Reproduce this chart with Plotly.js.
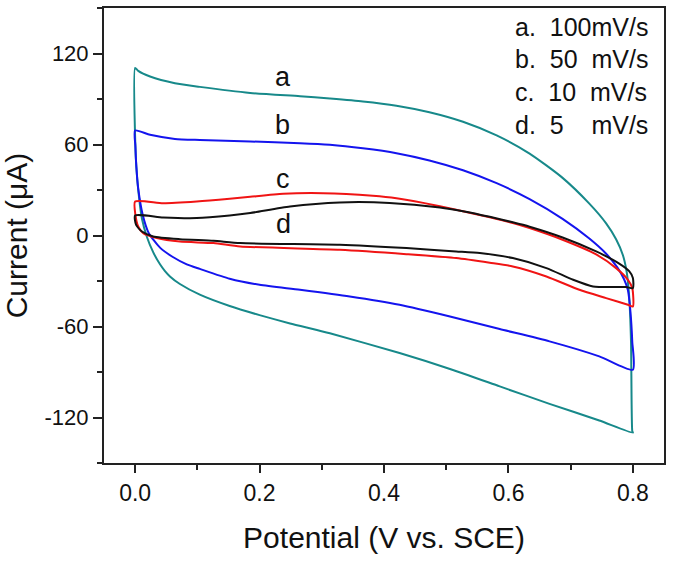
<!DOCTYPE html>
<html>
<head>
<meta charset="utf-8">
<script src="https://cdn.plot.ly/plotly-3.0.1.min.js"></script>
<style>
  html, body { margin: 0; padding: 0; background: #fff; }
  #cv-chart { width: 675px; height: 561px; }
</style>
</head>
<body>
<div id="cv-chart"></div>
<script>
// CV curves, potential (V vs. SCE) -> current (uA), each loop closed
const curveNames = ["a", "b", "c", "d"];
const curveColors = ["#17898a", "#1414ee", "#f01414", "#111111"];

// a. 100 mV/s
const aX = [0, 0.005, 0.024, 0.064, 0.104, 0.185, 0.265, 0.313, 0.366, 0.42, 0.473, 0.527, 0.581, 0.634, 0.687, 0.73, 0.757, 0.773, 0.784, 0.79, 0.794, 0.797, 0.799,
            0.8, 0.746, 0.666, 0.586, 0.506, 0.425, 0.313, 0.249, 0.2, 0.152, 0.104, 0.072, 0.056, 0.048, 0.04, 0.029, 0.019, 0.011, 0.005, 0.002, 0.0005, 0];
const aY = [110.5, 108.5, 104.8, 100.4, 98, 94, 91.8, 90.3, 88.4, 85.6, 81.3, 75, 66, 54, 38, 21, 8, -2.5, -13, -24, -40, -70, -129,
            -130, -122, -111, -99.5, -88, -77.5, -64.5, -58, -52.5, -46.5, -39, -32, -27, -23.5, -19, -11, -1, 11, 30, 45, 58, 110.5];

// b. 50 mV/s
const bX = [0, 0.024, 0.064, 0.104, 0.185, 0.265, 0.313, 0.366, 0.42, 0.473, 0.527, 0.581, 0.634, 0.687, 0.73, 0.757, 0.775, 0.786, 0.792, 0.796, 0.799,
            0.8, 0.746, 0.666, 0.586, 0.506, 0.425, 0.345, 0.265, 0.2, 0.152, 0.104, 0.083, 0.06, 0.04, 0.022, 0.012, 0.005, 0.002, 0.0005, 0];
const bY = [69.2, 66.4, 63.7, 63, 62, 60.9, 59.8, 57.5, 54.3, 49.5, 43, 34.5, 24, 11, -2, -12, -21, -29, -36, -50, -70,
            -88.5, -79.7, -69.8, -61.7, -53.4, -45.7, -40.2, -35.8, -32.5, -28.5, -22, -19, -14, -8, 1.5, 14, 31, 45.5, 58.7, 69.2];

// c. 10 mV/s
const cX = [0, 0.045, 0.099, 0.152, 0.185, 0.238, 0.302, 0.382, 0.42, 0.463, 0.516, 0.57, 0.607, 0.634, 0.687, 0.741, 0.773, 0.792, 0.799,
            0.8, 0.792, 0.757, 0.714, 0.661, 0.607, 0.57, 0.516, 0.436, 0.329, 0.169, 0.126, 0.072, 0.035, 0.013, 0.005, 0.0005, 0];
const cY = [22.4, 21.3, 22.4, 24.2, 25.5, 27.5, 27.9, 26.2, 24.6, 21.5, 17, 12, 8.2, 4.9, -2.8, -12.5, -21.5, -29.2, -34.7,
            -46.8, -45.7, -41.3, -35.8, -27, -20.4, -18, -14.9, -12.3, -9.4, -7.2, -5, -4, -1.7, 1.5, 5.9, 13.6, 22.4];

// d. 5 mV/s
const dX = [0, 0.045, 0.099, 0.152, 0.185, 0.249, 0.329, 0.409, 0.49, 0.527, 0.57, 0.607, 0.634, 0.687, 0.741, 0.778, 0.794, 0.8,
            0.8, 0.789, 0.736, 0.704, 0.661, 0.607, 0.554, 0.516, 0.436, 0.329, 0.169, 0.126, 0.072, 0.029, 0.011, 0.0016, 0];
const dY = [13.2, 11.9, 11.5, 13.2, 14.8, 19.1, 21.8, 21.5, 18.5, 16, 12.3, 8.7, 5.8, -1.3, -10.5, -18.5, -23.5, -28,
            -34.7, -34, -33.6, -29.2, -21.5, -14.9, -11.6, -10.5, -8.3, -6.1, -5, -3.5, -2.4, -0.6, 2.6, 7, 13.2];

// in-plot letter labels
const labelX = [0.237, 0.237, 0.238, 0.238];
const labelY = [104.6, 72.6, 37.5, 7.8];

// scan-rate key, top right
const NB = "\u00a0";
const keyText = [
  "a." + NB + NB + "100mV/s",
  "b." + NB + NB + "50" + NB + NB + "mV/s",
  "c." + NB + NB + "10" + NB + NB + "mV/s",
  "d." + NB + NB + "5" + NB + NB + NB + NB + "mV/s",
];
const keyY = [137.2, 116.1, 94.4, 72.7];

const xTicks = [0, 0.2, 0.4, 0.6, 0.8];
const xTickText = ["0.0", "0.2", "0.4", "0.6", "0.8"];
const yTicks = [-120, -60, 0, 60, 120];
const yTickText = ["-120", "-60", "0", "60", "120"];

const FONT = "Arial, 'Liberation Sans', sans-serif";
const AXIS_COLOR = "#222";

const series = [[aX, aY], [bX, bY], [cX, cY], [dX, dY]];
const traces = series.map(([x, y], i) => ({
  x: x,
  y: y,
  type: "scatter",
  mode: "lines",
  name: curveNames[i],
  line: { color: curveColors[i], width: 2, shape: "spline", smoothing: 0.6 },
  hoverinfo: "skip",
}));

const annotations = [];
curveNames.forEach((n, i) => {
  annotations.push({
    x: labelX[i], y: labelY[i], xref: "x", yref: "y",
    text: n, showarrow: false,
    xanchor: "center", yanchor: "middle",
    font: { family: FONT, size: 27, color: "#111" },
  });
});
keyText.forEach((t, i) => {
  annotations.push({
    x: 0.608, y: keyY[i], xref: "x", yref: "y",
    text: t, showarrow: false,
    xanchor: "left", yanchor: "middle",
    font: { family: FONT, size: 25, color: "#111" },
  });
});

const layout = {
  width: 675,
  height: 561,
  margin: { l: 104, r: 11, t: 8, b: 98, pad: 0 },
  paper_bgcolor: "#fff",
  plot_bgcolor: "#fff",
  showlegend: false,
  font: { family: FONT, color: "#111" },
  xaxis: {
    range: [-0.05, 0.85],
    tickvals: xTicks,
    ticktext: xTickText,
    ticks: "outside",
    ticklen: 8,
    tickwidth: 2,
    tickcolor: AXIS_COLOR,
    tickfont: { family: FONT, size: 23, color: "#111" },
    minor: { dtick: 0.1, tick0: 0, ticks: "outside", ticklen: 5, tickwidth: 2, tickcolor: AXIS_COLOR, showgrid: false },
    showline: true,
    linewidth: 2,
    linecolor: AXIS_COLOR,
    mirror: true,
    showgrid: false,
    zeroline: false,
    title: { text: "Potential (V vs. SCE)", font: { family: FONT, size: 30, color: "#111" }, standoff: 22 },
  },
  yaxis: {
    range: [-150, 150],
    tickvals: yTicks,
    ticktext: yTickText,
    ticks: "outside",
    ticklen: 9,
    tickwidth: 2,
    tickcolor: AXIS_COLOR,
    tickfont: { family: FONT, size: 22, color: "#111" },
    minor: { dtick: 30, tick0: 0, ticks: "outside", ticklen: 5, tickwidth: 2, tickcolor: AXIS_COLOR, showgrid: false },
    showline: true,
    linewidth: 2,
    linecolor: AXIS_COLOR,
    mirror: true,
    showgrid: false,
    zeroline: false,
    title: { text: "Current (\u03bcA)", font: { family: FONT, size: 30, color: "#111" }, standoff: 12 },
  },
  annotations: annotations,
};

Plotly.newPlot("cv-chart", traces, layout, { displayModeBar: false, staticPlot: true });
</script>
</body>
</html>
